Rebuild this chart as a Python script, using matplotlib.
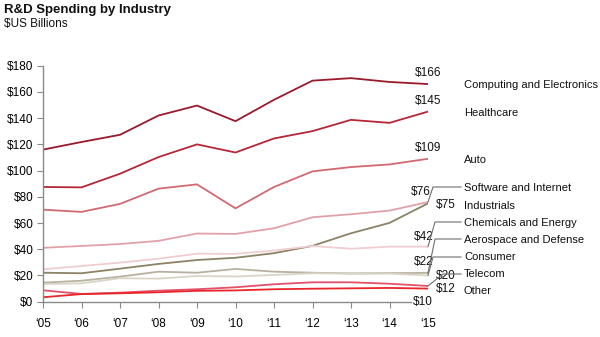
import numpy as np
import matplotlib
matplotlib.use("Agg")
import matplotlib.pyplot as plt
from matplotlib.lines import Line2D

plt.rcParams['font.family'] = ['Liberation Sans', 'DejaVu Sans']
plt.rcParams['text.parse_math'] = False

# R&D spending, $US billions
years = list(range(2005, 2016))
year_labels = ['\u2018' + str(y)[2:] for y in years]

computing = [116, 121.8, 127.3, 142, 149.6, 137.7, 154, 168.6, 170.5, 167.6, 166]
healthcare = [87.5, 87.2, 97.6, 110.3, 120, 113.8, 124.5, 130.1, 138.7, 136.4, 145]
auto = [70.2, 68.5, 74.6, 86.2, 89.5, 71.2, 87.5, 99.4, 102.7, 104.7, 109]
software = [41.1, 42.5, 44, 46.4, 52, 51.7, 56, 64.4, 66.7, 69.5, 76]
industrials = [22.1, 21.7, 25.2, 28.8, 31.8, 33.5, 37, 42.6, 52.2, 60.1, 75]
chemicals = [24.7, 27.2, 29.8, 32.8, 36.6, 36.5, 39, 42.5, 40.4, 42, 42]
aerospace = [14.5, 16, 19.1, 22.9, 22.1, 25, 22.9, 22.1, 21.6, 21.8, 22]
consumer = [13.5, 14, 17.9, 17.6, 19.6, 19.2, 20.4, 21.7, 21.3, 21.4, 20]
telecom = [8.7, 5.9, 6.9, 8.4, 9.5, 11.0, 13.3, 14.8, 14.8, 13.7, 12]
other = [3.4, 5.8, 6.4, 7.2, 8.3, 8.6, 9.5, 9.9, 10.2, 10.5, 10]

names = ['Computing and Electronics', 'Healthcare', 'Auto', 'Software and Internet',
         'Industrials', 'Chemicals and Energy', 'Aerospace and Defense', 'Consumer',
         'Telecom', 'Other']
series = [computing, healthcare, auto, software, industrials, chemicals,
          aerospace, consumer, telecom, other]
colors = ['#9a1a2c', '#b52736', '#cf6a72', '#e1a1a8', '#8c8266', '#f0cdd0',
          '#b9b19f', '#d9d4c6', '#e2506a', '#e8262a']

# end-value label placement: (dx px, dy px, ha)
value_pos = [(0, 11, 'center'), (0, 11, 'center'), (0, 11, 'center'),
             (-7, 10, 'center'), (8, -2, 'left'), (-4, 10, 'center'),
             (-4, 11, 'center'), (8, -1, 'left'), (8, -3, 'left'),
             (-5, -13, 'center')]

# name column rows (pixel y from top) and leader knees
name_y = [85, 113, 160, 188, 206, 223, 240, 257, 274, 291]
leaders = {3: (433, 187), 5: (435, 222), 6: (435, 239), 7: (433, 257), 8: (443, 274)}

W, H = 600, 337
fig = plt.figure(figsize=(6, 3.37), dpi=100)
ax = fig.add_axes([43 / W, 35.3 / H, 385 / W, 236 / H])

for vals, c in zip(series, colors):
    ax.plot(years, vals, color=c, lw=1.3, solid_capstyle='butt')

ax.set_xlim(2005, 2015)
ax.set_ylim(0, 180)
ax.set_yticks(range(0, 181, 20))
ax.set_yticklabels(['$' + str(v) for v in range(0, 181, 20)])
ax.set_xticks(years)
ax.set_xticklabels(year_labels)
for s in ['top', 'right']:
    ax.spines[s].set_visible(False)
for s in ['left', 'bottom']:
    ax.spines[s].set_color('#8a8a8a')
    ax.spines[s].set_linewidth(1.0)
ax.tick_params(axis='y', length=4, color='#8a8a8a', labelsize=8.5, pad=3)
ax.tick_params(axis='x', length=4, color='#8a8a8a', labelsize=8.5, pad=8)

to_fig = fig.transFigure.inverted()

for i, (vals, (dx, dy, ha)) in enumerate(zip(series, value_pos)):
    txt = ax.annotate('$' + str(vals[-1]), (years[-1], vals[-1]),
                      xytext=(dx * 0.72, dy * 0.72), textcoords='offset points',
                      ha=ha, va='center', fontsize=8.5, color='#111111')
    if i == len(series) - 1:
        txt.set_bbox(dict(facecolor='white', edgecolor='none', pad=0.5))

for i, (name, y) in enumerate(zip(names, name_y)):
    fig.text(464 / W, 1 - y / H, name, ha='left', va='center', fontsize=8,
             color='#111111')
    if i in leaders:
        kx, ky = leaders[i]
        ex, ey = to_fig.transform(ax.transData.transform((years[-1], series[i][-1])))
        xs = [ex, kx / W, 461 / W]
        ys = [ey, 1 - ky / H, 1 - ky / H]
        fig.add_artist(Line2D(xs, ys, transform=fig.transFigure, color='#6e6e6e', lw=0.8))

fig.text(4 / W, 1 - 10 / H, 'R&D Spending by Industry', fontsize=9.5, fontweight='bold',
         ha='left', va='center', color='#111111')
fig.text(4 / W, 1 - 24 / H, '$US Billions', fontsize=8.5, ha='left', va='center',
         color='#111111')

fig.savefig('out.png', dpi=100)
